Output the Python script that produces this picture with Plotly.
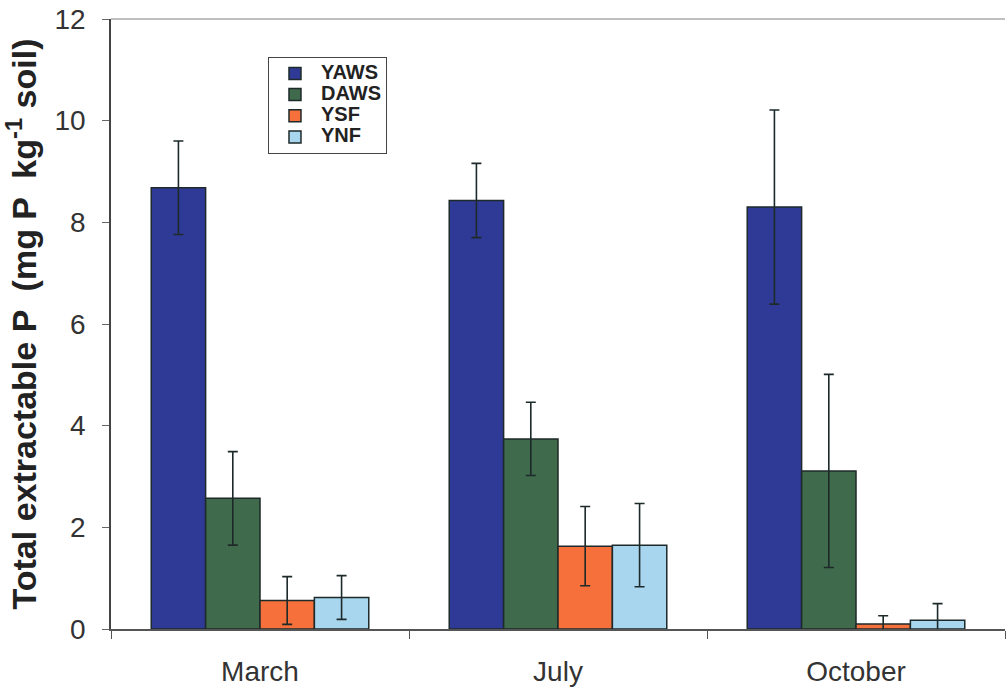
import plotly.graph_objects as go

months = ["March", "July", "October"]
series_names = ["YAWS", "DAWS", "YSF", "YNF"]
yaws = [8.68, 8.43, 8.30]
yaws_err = [0.92, 0.73, 1.91]
daws = [2.57, 3.74, 3.11]
daws_err = [0.92, 0.72, 1.90]
ysf = [0.56, 1.63, 0.10]
ysf_err = [0.47, 0.78, 0.16]
ynf = [0.62, 1.65, 0.17]
ynf_err = [0.43, 0.82, 0.33]

colors = ["#2f3a96", "#3f6a4b", "#f5703a", "#a8d6ee"]
values = [yaws, daws, ysf, ynf]
errors = [yaws_err, daws_err, ysf_err, ynf_err]

fig = go.Figure()
for name, v, e, c in zip(series_names, values, errors, colors):
    fig.add_trace(go.Bar(
        name="<span style='font-size:20px'>" + name + "</span>", x=months, y=v,
        marker=dict(color=c, line=dict(color="#1e2a2a", width=1.5)),
        error_y=dict(type="data", array=e, visible=True, color="#1e2a2a",
                     thickness=1.6, width=5),
    ))

fig.update_layout(
    width=1007, height=694,
    margin=dict(l=111, r=2, t=19, b=65),
    paper_bgcolor="white", plot_bgcolor="white",
    barmode="group", bargap=0.27, bargroupgap=0,
    showlegend=True,
    legend=dict(
        x=0.1756, y=0.938, xanchor="left", yanchor="top",
        bgcolor="white", bordercolor="#444444", borderwidth=1,
        font=dict(family="Liberation Sans, Arial, sans-serif", size=14, color="#222222",
                  weight="bold"),
        itemwidth=42, tracegroupgap=0,
    ),
    xaxis=dict(
        automargin=False,
        showline=True, linecolor="#555555", linewidth=1.5,
        ticks="outside", tickson="boundaries", ticklen=8, tickcolor="#555555",
        tickfont=dict(family="Liberation Sans, Arial, sans-serif", size=28, color="#333333"),
        ticklabelstandoff=17,
        showgrid=False, zeroline=False,
    ),
    yaxis=dict(
        automargin=False,
        range=[0, 12], dtick=2, tick0=0,
        showline=True, linecolor="#444444", linewidth=1.5,
        ticks="outside", ticklen=7, tickcolor="#666666",
        tickfont=dict(family="Liberation Sans, Arial, sans-serif", size=28, color="#333333"),
        ticklabelstandoff=11,
        showgrid=False, zeroline=False,
        title=dict(text="Total extractable P  (mg P  kg<sup>-1</sup> soil)",
                   font=dict(family="Liberation Sans, Arial, sans-serif", size=34,
                             color="#222222", weight="bold"),
                   standoff=12),
    ),
    shapes=[dict(type="line", xref="paper", yref="paper", x0=0, x1=1, y0=1, y1=1,
                 line=dict(color="#aaaaaa", width=1.5))],
)

fig.write_html("out.html", config={"displayModeBar": False},
               post_script="document.body.style.margin='0';document.body.style.padding='0';")
